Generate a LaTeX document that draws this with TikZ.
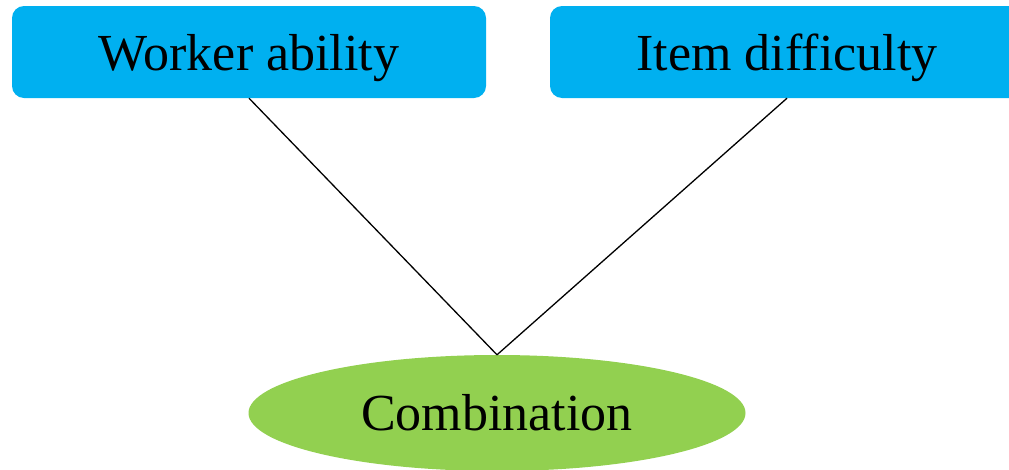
\documentclass[tikz,border=0pt]{standalone}
\usepackage{fontspec}
\setmainfont{Liberation Serif}
\usepackage{tikz}
\usetikzlibrary{shapes.geometric}
\definecolor{factorblue}{RGB}{0, 176, 240}
\definecolor{combgreen}{RGB}{146, 208, 80}

\begin{document}
\begin{tikzpicture}[
    x=1pt, y=-1pt,
    font=\fontsize{52}{60}\selectfont,
    factor/.style={rectangle, fill=factorblue, rounded corners=12pt,
        minimum width=474pt, minimum height=92pt, inner sep=0pt,
        text depth=0pt},
    combo/.style={ellipse, fill=combgreen,
        minimum width=497pt, minimum height=116pt, inner sep=0pt},
    link/.style={black, line width=1.3pt}
]

    % Frame
    \useasboundingbox (0,0) rectangle (1009,469);
    \clip (0,0) rectangle (1009,469);

    % Factors
    \node[factor] (worker) at (249, 52) {Worker ability};
    \node[factor] (item) at (787, 52) {Item difficulty};

    % Combination
    \node[combo] (comb) at (497, 413) {Combination};

    % Links
    \draw[link] (worker.south) -- (comb.north);
    \draw[link] (item.south) -- (comb.north);

\end{tikzpicture}
\end{document}
